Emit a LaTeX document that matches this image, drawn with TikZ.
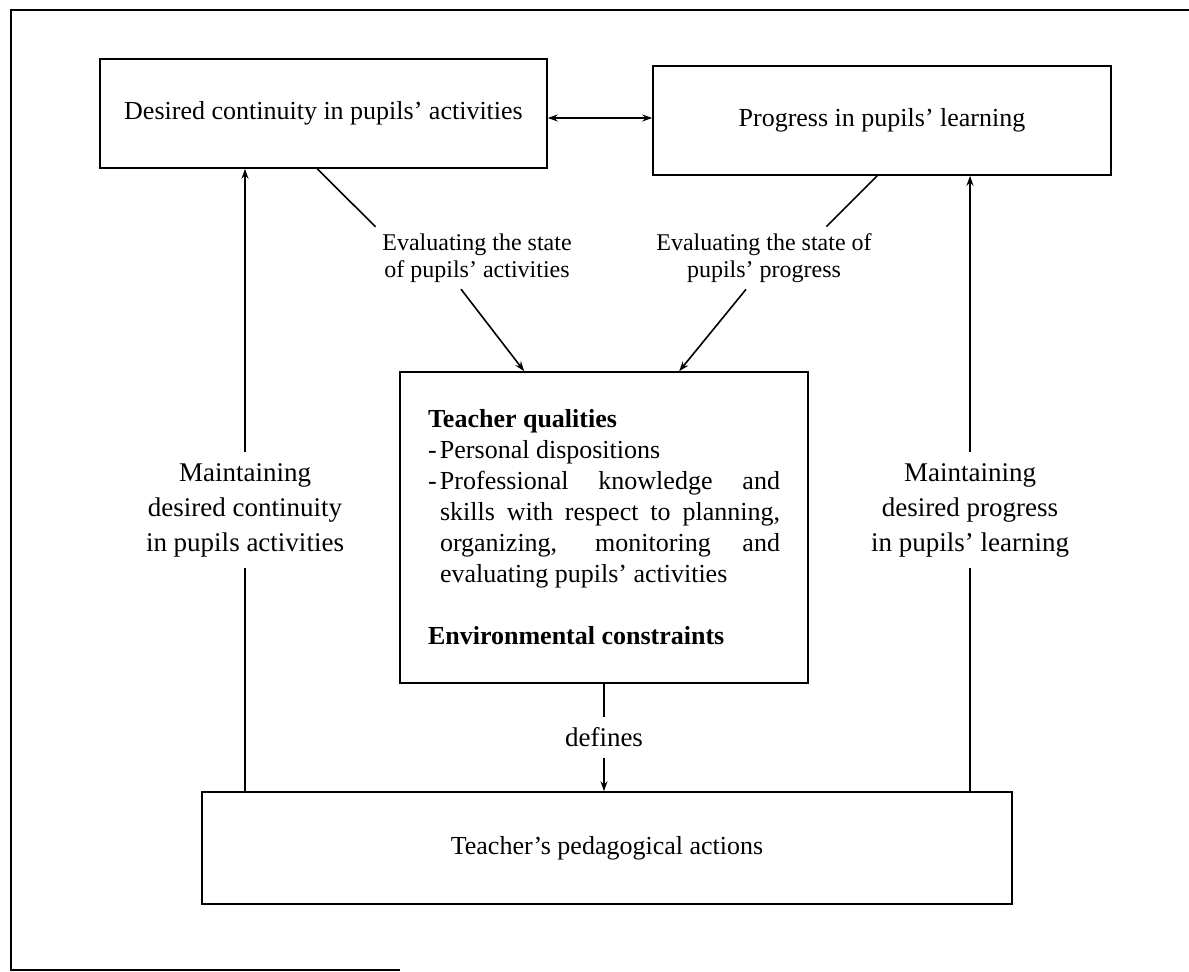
\documentclass[tikz,border=0pt]{standalone}
\usepackage{fontspec}
\setmainfont{Liberation Serif}
\usetikzlibrary{positioning,arrows.meta,calc}

\tikzset{
  box/.style={draw, inner sep=0pt, align=center, font=\fontsize{13}{15.5}\selectfont},
  lbl/.style={align=center, inner sep=3pt, font=\fontsize{12}{13.5}\selectfont},
  sidelbl/.style={lbl, inner sep=5pt, font=\fontsize{13.5}{17.5}\selectfont},
}

\begin{document}
\begin{tikzpicture}[x=0.5pt,y=-0.5pt,line width=0.8pt,>={Stealth[length=5pt,width=3.5pt]}]
\useasboundingbox (0,0) rectangle (1189,972);
% page frame
\draw (1189,10) -- (11,10) -- (11,970) -- (400,970);

% boxes
\node[box, minimum width=223.5pt, minimum height=54.5pt] (cont) at (323.5,113.5) {Desired continuity in pupils' activities};
\node[box, minimum width=229pt, minimum height=54.5pt] (prog) at (882,120.5) {Progress in pupils' learning};
\node[box, minimum width=204pt, minimum height=155.5pt, text width=176pt, align=justify] (qual) at (604,527.5) {%
  \textbf{Teacher qualities}\par
  \hangindent=6pt\hangafter=1\makebox[6pt][l]{-}Personal dispositions\par
  \hangindent=6pt\hangafter=1\makebox[6pt][l]{-}Professional knowledge and\linebreak
  skills with respect to planning,\linebreak organizing, monitoring and\linebreak
  evaluating pupils' activities\par
  \vspace{15.5pt}
  \textbf{Environmental constraints}};
\node[box, minimum width=405pt, minimum height=56pt] (act) at (607,848) {Teacher's pedagogical actions};

% labels
\node[lbl] (evalcont) at (477,258) {Evaluating the state\\of pupils' activities};
\node[lbl] (evalprog) at (764,258) {Evaluating the state of\\pupils' progress};
\node[sidelbl] (maincont) at (245,510) {Maintaining\\desired continuity\\in pupils activities};
\node[sidelbl] (mainprog) at (970,510) {Maintaining\\desired progress\\in pupils' learning};

% connectors
\draw[<->] ([yshift=-2.25pt]cont.east) -- ([yshift=-2.25pt]cont.east -| prog.west);
\draw ([xshift=109pt]cont.south west) -- (evalcont.north west);
\draw[->] ([xshift=-8pt]evalcont.south) -- ([xshift=62.5pt]qual.north west);
\draw ([xshift=112.5pt]prog.south west) -- ([xshift=-26pt]evalprog.north east);
\draw[->] ([xshift=-9pt]evalprog.south) -- ([xshift=140pt]qual.north west);

\path (qual.south) -- node[lbl, inner sep=5pt, font=\fontsize{13.5}{15}\selectfont] (defn) {defines} (qual.south |- act.north);
\draw (qual.south) -- (defn);
\draw[->] (defn) -- (defn |- act.north);

\draw[->] (maincont) -- (maincont |- cont.south);
\draw (maincont) -- (maincont |- act.north);
\draw[->] (mainprog) -- (mainprog |- prog.south);
\draw (mainprog) -- (mainprog |- act.north);
\end{tikzpicture}
\end{document}
